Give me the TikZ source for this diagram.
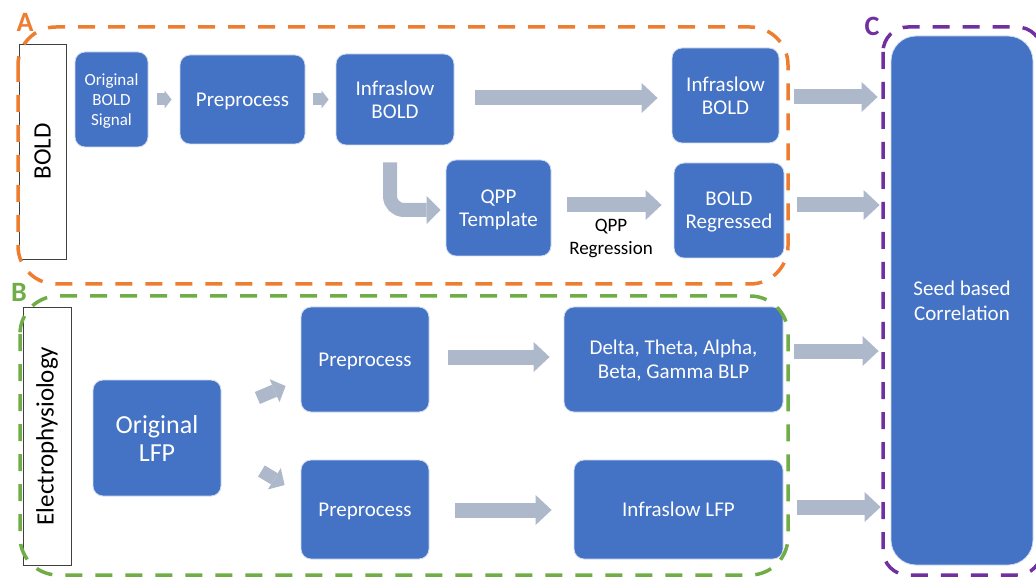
\documentclass[tikz,border=0pt]{standalone}
\usepackage{fontspec}
\setmainfont{Carlito}
\usetikzlibrary{arrows.meta,calc}
\definecolor{boxblue}{HTML}{4472C4}
\definecolor{arrgray}{HTML}{ADB9CA}
\definecolor{aorange}{HTML}{ED7D31}
\definecolor{bgreen}{HTML}{70AD47}
\definecolor{cpurple}{HTML}{7030A0}
\begin{document}
\begin{tikzpicture}[x=1pt,y=-1pt,
  proc/.style={fill=boxblue, draw=white!75!boxblue, line width=0.8pt, rounded corners=10pt,
    text=white, align=center, inner sep=0pt, text depth=0pt, font=\fontsize{21}{23}\selectfont},
  sidelab/.style={draw=black!75, fill=white, line width=0.8pt, rotate=90, inner sep=0pt,
    text=black, font=\fontsize{25}{28}\selectfont},
  bigarr/.style={draw=arrgray, line width=15pt,
    -{Triangle[width=30pt,length=16pt,line width=0pt]}},
  midarr/.style={draw=arrgray, line width=14pt, rounded corners=14pt,
    -{Triangle[width=28pt,length=14pt,line width=0pt]}},
  diagarr/.style={draw=arrgray, line width=13pt,
    -{Triangle[width=25pt,length=12pt,line width=0pt]}},
  smallarr/.style={draw=arrgray, line width=12pt,
    -{Triangle[width=18pt,length=7pt,line width=0pt]}},
  frame/.style={line width=3.5pt, dash pattern=on 17pt off 13pt, rounded corners=38pt},
  framelab/.style={font=\fontsize{28}{30}\selectfont\bfseries, inner sep=0pt}
]
\useasboundingbox (0,0) rectangle (1036,577);

% side labels
\node[sidelab, minimum width=215, minimum height=47] (boldlab) at (42.5,151.5) {BOLD};
\node[sidelab, minimum width=258, minimum height=48] (ephys) at (47,436) {Electrophysiology};

% BOLD row
\node[proc, minimum width=73, minimum height=95, font=\fontsize{17}{20}\selectfont] (ob) at (111.5,99.5) {Original\\BOLD\\Signal};
\node[proc, minimum width=125, minimum height=89] (pre) at (242.5,99.5) {Preprocess};
\node[proc, minimum width=118, minimum height=91] (inf1) at (395,99.5) {Infraslow\\BOLD};
\node[proc, minimum width=107, minimum height=95] (inf2) at (725.5,95.5) {Infraslow\\BOLD};
\node[proc, minimum width=105, minimum height=96] (qpp) at (498.5,208) {QPP\\Template};
\node[proc, minimum width=110, minimum height=95] (breg) at (729,210.5) {BOLD\\Regressed};
\node[align=center, inner sep=0pt, font=\fontsize{19}{23}\selectfont] (regl) at (611,238.5) {QPP\\Regression};

% LFP rows
\node[proc, minimum width=128, minimum height=116, font=\fontsize{26}{28}\selectfont] (lfp) at (157,438) {Original\\LFP};
\node[proc, minimum width=128, minimum height=105] (pre1) at (365,359.5) {Preprocess};
\node[proc, minimum width=128, minimum height=99] (pre2) at (365,509.5) {Preprocess};
\node[proc, minimum width=219, minimum height=105, font=\fontsize{21}{24}\selectfont] (delta) at (673.5,359.5) {Delta, Theta, Alpha,\\Beta, Gamma BLP};
\node[proc, minimum width=209, minimum height=99] (ilfp) at (678.5,509.5) {Infraslow LFP};

% seed
\node[proc, rounded corners=25pt, minimum width=142, minimum height=529, font=\fontsize{21}{25}\selectfont] (seed) at (962,300.5) {Seed based\\Correlation};

% arrows
\draw[smallarr] ($(ob.east)+(9,0)$) -- ($(pre.west)+(-8,0)$);
\draw[smallarr] ($(pre.east)+(8,0)$) -- ($(inf1.west)+(-7,0)$);
\draw[bigarr] ($(inf1.east)+(21,-1.5)$) -- ($(inf2.west)+(-14,2.5)$);
\draw[midarr] ($(inf1.south)+(-5,17)$) |- ($(qpp.west)+(-5,2)$);
\draw[bigarr] ($(qpp.east)+(16,-3)$) -- ($(breg.west)+(-12,-5.5)$);
\draw[bigarr] ($(inf2.east)+(15,1.5)$) -- ($(inf2.east -| seed.west)+(-13,1.5)$);
\draw[bigarr] ($(breg.east)+(13,-5.5)$) -- ($(breg.east -| seed.west)+(-11,-5.5)$);
\draw[diagarr] ($(lfp.east)+(36,-40)$) -- ($(pre1.west)+(-15,26.5)$);
\draw[diagarr] ($(lfp.east)+(40,33)$) -- ($(pre2.west)+(-16,-24.5)$);
\draw[bigarr] ($(pre1.east)+(19,-2.5)$) -- ($(delta.west)+(-14,-2.5)$);
\draw[bigarr] ($(pre2.east)+(26,0.5)$) -- ($(ilfp.west)+(-22,0.5)$);
\draw[bigarr] ($(delta.east)+(11,-8.5)$) -- ($(delta.east -| seed.west)+(-12,-8.5)$);
\draw[bigarr] ($(ilfp.east)+(14,-2.5)$) -- ($(ilfp.east -| seed.west)+(-10,-2.5)$);

% frames
\draw[frame, aorange] (18,27) rectangle (788,284);
\draw[frame, bgreen] (20,296) rectangle (788,575);
\draw[frame, cpurple, rounded corners=25pt] (883,27) rectangle (1042,575);
\node[framelab, text=aorange] (la) at (25,22) {A};
\node[framelab, text=bgreen] (lb) at (19,292) {B};
\node[framelab, text=cpurple] (lc) at (872,26) {C};
\end{tikzpicture}
\end{document}
